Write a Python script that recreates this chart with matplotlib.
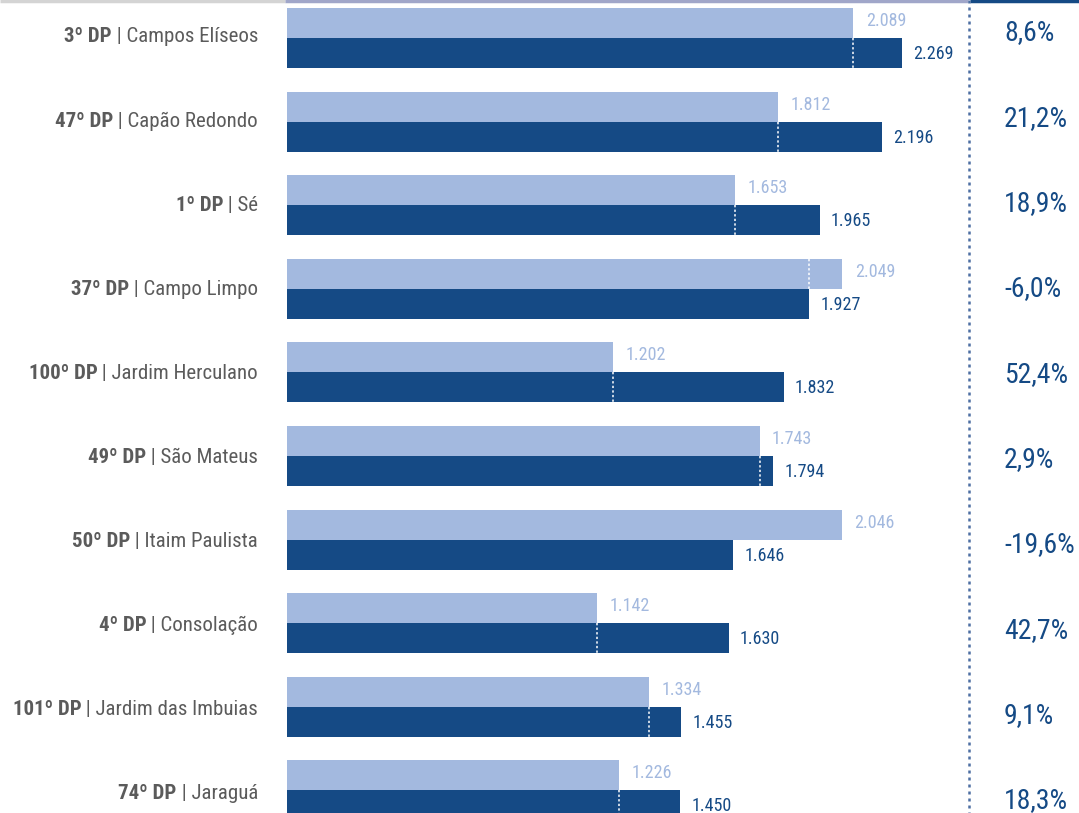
import matplotlib
matplotlib.use("Agg")
import matplotlib.pyplot as plt
from matplotlib import font_manager

# Distritos policiais e ocorrências nos dois períodos
delegacias = ["3º DP", "47º DP", "1º DP", "37º DP", "100º DP",
              "49º DP", "50º DP", "4º DP", "101º DP", "74º DP"]
bairros = ["Campos Elíseos", "Capão Redondo", "Sé", "Campo Limpo",
           "Jardim Herculano", "São Mateus", "Itaim Paulista", "Consolação",
           "Jardim das Imbuias", "Jaraguá"]
anterior = [2089, 1812, 1653, 2049, 1202, 1743, 2046, 1142, 1334, 1226]
atual = [2269, 2196, 1965, 1927, 1832, 1794, 1646, 1630, 1455, 1450]
marca_referencia = [True, True, True, True, True, True, False, True, True, True]

CLARO = "#a3b9df"
ESCURO = "#154a85"
CINZA = "#5b5b5b"

disponiveis = {f.name for f in font_manager.fontManager.ttflist}
familia = [f for f in ["Roboto Condensed", "Liberation Sans Narrow", "Roboto", "DejaVu Sans"]
           if f in disponiveis]
plt.rcParams["font.family"] = familia

W, H = 1079, 813
fig = plt.figure(figsize=(W / 100, H / 100), dpi=100)
ax = fig.add_axes([0, 0, 1, 1])
ax.set_axis_off()

# escala horizontal: zero em x=287 px, 0.2711 px por ocorrência
escala = 0.2711
x0 = 287
ax.set_xlim(-x0 / escala, (W - x0) / escala)
ax.set_ylim(H, 0)

passo = 83.6
altura = 30
n = len(delegacias)
centros = [38 + passo * i for i in range(n)]
y_rotulos = [37 + 84.1 * i for i in range(n)]
y_variacao = [33 + 85.3 * i for i in range(n)]

def fmt(v):
    return f"{v:,}".replace(",", ".")

for i, c in enumerate(centros):
    a, b = anterior[i], atual[i]
    ax.barh(c - altura / 2, a, height=altura, color=CLARO, linewidth=0)
    ax.barh(c + altura / 2, b, height=altura, color=ESCURO, linewidth=0)
    if marca_referencia[i]:
        m = min(a, b)
        yc = c + altura / 2 if b > a else c - altura / 2
        ax.plot([m, m], [yc - altura / 2, yc + altura / 2], color="white",
                linestyle=(0, (1.5, 1.5)), linewidth=1.1)
    ax.annotate(fmt(a), (a, c - altura / 2 - 2), xytext=(9, 0),
                textcoords="offset points", va="center", ha="left",
                fontsize=13, color=CLARO)
    ax.annotate(fmt(b), (b, c + altura / 2 + 1), xytext=(8, 0),
                textcoords="offset points", va="center", ha="left",
                fontsize=13, color=ESCURO)

    # rótulo da categoria: número do DP em negrito + bairro
    t = ax.text(-29 / escala, y_rotulos[i], " | " + bairros[i], ha="right",
                va="center", fontsize=15, color=CINZA)
    ax.annotate(delegacias[i], xy=(0, 0.5), xycoords=t, ha="right", va="center",
                fontsize=15, color=CINZA, fontweight="bold")

    var = (b / a - 1) * 100
    ax.text((1004 - x0) / escala, y_variacao[i], f"{var:.1f}%".replace(".", ","),
            ha="left", va="center", fontsize=20, color=ESCURO)

# linhas de topo e divisória da coluna de variação
ax.plot([-x0 / escala, -2 / escala], [1.5, 1.5], color="#d4d4d4", linewidth=2.5,
        solid_capstyle="butt")
ax.plot([-2 / escala, (968 - x0) / escala], [1.5, 1.5], color="#a0a6c9",
        linewidth=2.5, solid_capstyle="butt")
ax.plot([(970 - x0) / escala, (W - x0) / escala], [1.5, 1.5], color=ESCURO,
        linewidth=2.5, solid_capstyle="butt")
ax.plot([(969 - x0) / escala] * 2, [0, H], color="#4d6fa3",
        linestyle=(0, (1.2, 1.6)), linewidth=1.8)

fig.savefig("out.png", dpi=100)
